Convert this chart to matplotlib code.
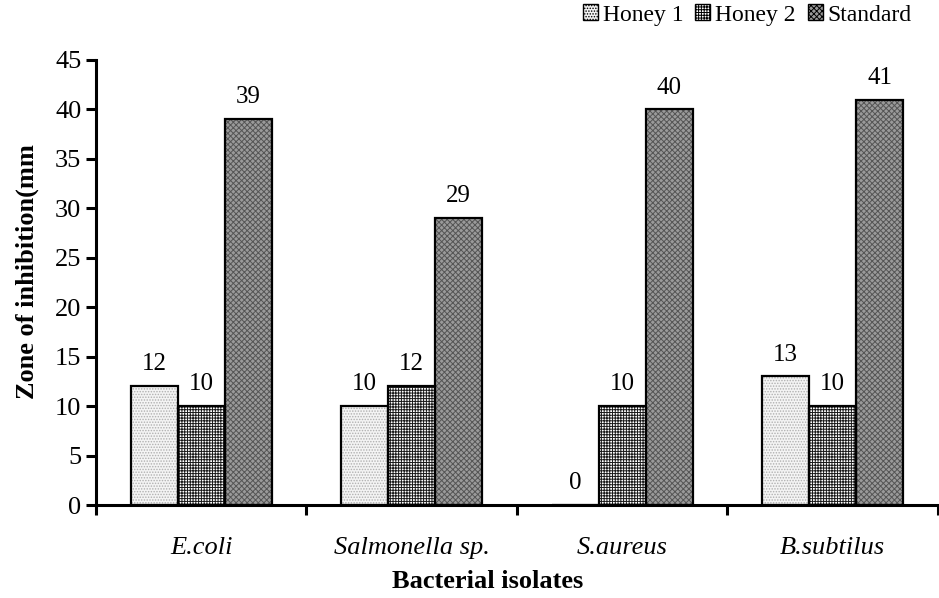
import matplotlib
matplotlib.use("Agg")
import numpy as np
import matplotlib.pyplot as plt
from matplotlib.patches import Patch

plt.rcParams["font.family"] = ["Liberation Serif", "DejaVu Serif"]
plt.rcParams["hatch.linewidth"] = 0.7

categories = ["E.coli", "Salmonella sp.", "S.aureus", "B.subtilus"]
honey1 = [12, 10, 0, 13]
honey2 = [10, 12, 10, 10]
standard = [39, 29, 40, 41]
series_names = ["Honey 1", "Honey 2", "Standard"]

styles = [
    {"fc": "#f4f4f4", "hc": "#b0b0b0", "hatch": "......"},
    {"fc": "white", "hc": "#1a1a1a", "hatch": "++++++"},
    {"fc": "#9a9a9a", "hc": "#555555", "hatch": "xxxxxx"},
]

fig = plt.figure(figsize=(9.39, 5.98), dpi=100)
ax = fig.add_axes([0.1022, 0.1555, 0.8967, 0.7442])

x = np.arange(len(categories)) + 0.5
width = 0.223

for k, values in enumerate([honey1, honey2, standard]):
    pos = x + (k - 1) * width
    st = styles[k]
    ax.bar(pos, values, width, color=st["fc"], edgecolor=st["hc"],
           hatch=st["hatch"], linewidth=0, zorder=2)
    ax.bar(pos, values, width, fill=False, edgecolor="black",
           linewidth=1.6, zorder=3)
    for p, v in zip(pos, values):
        ax.text(p, v + 1.1, str(v), ha="center", va="bottom", fontsize=18)

ax.set_xlim(0, 4)
ax.set_ylim(0, 45)
ax.set_yticks(np.arange(0, 46, 5))
ax.set_xticks(np.arange(0, 5))
ax.set_xticklabels([])
ax.set_xticks(x, minor=True)
ax.set_xticklabels(categories, minor=True, fontstyle="italic", fontsize=19)
ax.tick_params(axis="x", which="minor", length=0, pad=23)
ax.tick_params(axis="both", which="major", direction="out", length=7,
               width=2.2, labelsize=19)

ax.spines["top"].set_visible(False)
ax.spines["right"].set_visible(False)
ax.spines["left"].set_linewidth(2.2)
ax.spines["bottom"].set_linewidth(2.2)

ax.set_ylabel("Zone of inhibition(mm", fontsize=19, fontweight="bold")
ax.yaxis.set_label_coords(-0.068, 0.524)
fig.text(488 / 939, 1 - 582 / 598, "Bacterial isolates", ha="center",
         va="center", fontsize=19, fontweight="bold")

handles = [Patch(facecolor=st["fc"], edgecolor="black", hatch=st["hatch"],
                 linewidth=1) for st in styles]
fig.legend(handles, series_names, loc="center right",
           bbox_to_anchor=(0.981, 1 - 15 / 598), ncol=3, frameon=False,
           fontsize=17, handlelength=0.65, handleheight=0.65,
           handletextpad=0.2, columnspacing=0.5, borderaxespad=0)

fig.savefig("out.png", dpi=100)
